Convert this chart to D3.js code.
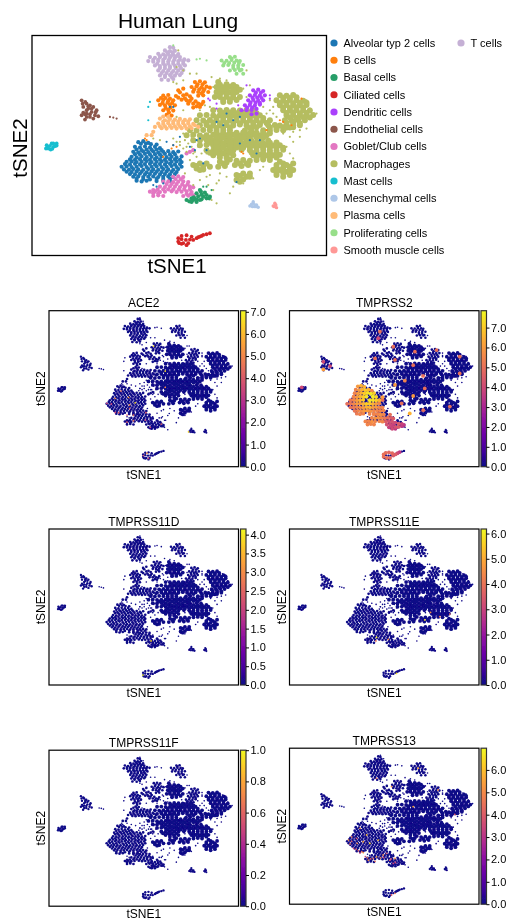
<!DOCTYPE html>
<html>
<head>
<meta charset="utf-8">
<title>Human Lung</title>
<script src="https://d3js.org/d3.v7.min.js"></script>
<style>
  body { margin: 0; background: #fff; }
  text { font-family: "Liberation Sans", Arial, sans-serif; fill: #000; }
</style>
</head>
<body>
<div id="chart"></div>
<script>
// embedding coordinates
var xDomain = [9.6, 98.0];
var yDomain = [10.5, 76.7];

var alveolarPts = [
  [41.5,42.6],[43,42.3],[44.5,42.8],
  [40.5,44],[42,44.2],[43.5,43.9],[45,44.2],[46.5,44],[48,44.4],
  [40,45.5],[41.5,45.7],[43,45.4],[44.5,45.6],[46,45.4],[47.5,45.7],[49,45.5],[50.5,45.3],[52,45.6],[53.5,45.4],
  [39.5,47],[41,47.2],[42.5,46.9],[44,47.1],[45.5,47],[47,47.2],[48.5,46.9],[50,47.1],[51.5,47],[53,47.2],[54.5,46.9],
  [38,48.5],[39.5,48.4],[41,48.6],[42.5,48.5],[44,48.3],[45.5,48.6],[47,48.5],[48.5,48.4],[50,48.6],[51.5,48.5],[53,48.4],[54.5,48.6],
  [36.5,50],[38,49.9],[39.5,50.1],[41,50],[42.5,49.8],[44,50.1],[45.5,50],[47,49.9],[48.5,50.1],[50,50],[51.5,49.8],[53,50.1],[54.5,50],
  [38,51.5],[39.5,51.6],[41,51.4],[42.5,51.5],[44,51.7],[45.5,51.4],[47,51.5],[48.5,51.6],[50,51.4],[51.5,51.5],[53,51.6],
  [40,53],[41.5,52.9],[43,53.1],[44.5,53],[46,52.9],[47.5,53.1],[49,53],[50.5,52.9],[52,53.1],
  [41,54.2],[42.5,54.4],[44,54.2],[47,54.3],[49,54.2],[51,54.3]
];
var alveolarFill = [
  [42.3,43.1],[43.8,43],[45.3,43.2],[47,43.3],
  [41,44.8],[42.5,45],[44,44.8],[45.5,44.9],[47,44.8],[48.5,45],
  [40.5,46.2],[42,46.3],[43.5,46.1],[45,46.3],[46.5,46.2],[48,46.3],[49.5,46.1],[51,46.3],[52.5,46.2],
  [39,47.8],[40.5,47.9],[42,47.7],[43.5,47.8],[45,47.9],[46.5,47.7],[48,47.8],[49.5,47.9],[51,47.7],[52.5,47.8],[54,47.9],
  [37.5,49.2],[39,49.3],[40.5,49.1],[42,49.3],[43.5,49.2],[45,49.1],[46.5,49.3],[48,49.2],[49.5,49.3],[51,49.1],[52.5,49.3],[54,49.2],
  [37.2,50.8],[38.7,50.9],[40,50.7],[41.5,50.8],[43,50.9],[44.5,50.7],[46,50.8],[47.5,50.9],[49,50.7],[50.5,50.8],[52,50.9],[53.5,50.7],
  [39,52.2],[40.5,52.3],[42,52.1],[43.5,52.3],[45,52.2],[46.5,52.1],[48,52.3],[49.5,52.2],[51,52.3],[52.5,52.2],
  [41,53.6],[43,53.7],[45,53.8],[47,53.6],[49,53.7],[51,53.6]
];
var bCellPts = [
  [58.5,24.5],[60,24.3],[61.5,24.6],
  [57.5,26],[59,25.8],[60.5,26.1],[62,25.9],[63,26.2],
  [58,27.4],[59.5,27.5],[61,27.3],[62.5,27.5],
  [59.5,28.6],[61,28.5],
  [49,28.6],[50.5,28.4],
  [47.5,30],[49,29.9],[50.5,30.1],[52,30],
  [48,31.4],[49.5,31.5],[51,31.3],[52.5,31.5],
  [49,33],[50.5,32.9],[52,33.1],
  [50,34.4],[51.5,34.6],
  [53.5,27],[55,26.5],[55,28.5],[52.8,28.7],[54.5,29.8],[56,30],[57.5,29.5],[56.5,31],
  [58,31],[59.5,31],[61,30.5],[58,32.2],[60,32],[57,28.8]
];
var bCellFill = [
  [59.3,25.2],[60.8,25.2],[58.3,26.7],[59.8,26.7],[61.3,26.7],[60.5,27.9],[48.3,29.3],[49.7,29.3],[51,29.5],
  [48.8,30.8],[50.3,30.7],[51.7,30.8],[49.7,32.3],[51.2,32.2],[50.7,33.7],[54,27.6],[56,28.2],[53.5,29.2],
  [55.5,29.4],[57,30.2],[58.7,30.3],[60.5,31.2],[59,31.8]
];
var basalPts = [
  [60,57],[59,58],[60.5,58.4],[62,58.5],[63,59],
  [57.5,59.5],[59,59.8],[60.5,59.8],[62,59.5],
  [56,60],[57.5,60.6],[59,60.6]
];
var basalFill = [[59.5,58.9],[61,59],[62.8,59.5],[58,60],[60,60],[61.5,57.8],[60.3,57.5],[56.8,60.4],[58.2,59.2]];
var ciliatedPts = [
  [53.5,71.5],[54.5,70.8],[56,70.6],[57.5,71],[53.5,72.5],[55,73],[56.5,73],
  [58,72],[59,71.5],[60,71],[61,70.5],[62,70.3],[63,70]
];
var ciliatedFill = [[54.5,71.8],[53.8,73],[55.8,72],[54.5,73.2],[57,71.9],[56,73.6],[59.5,71.2],[60.5,70.8]];
var dendriticPts = [
  [76,27],[77.5,26.8],[79,27.2],
  [75,28.5],[76.5,28.4],[78,28.6],[79.5,28.5],
  [74.5,30],[76,29.9],[77.5,30.1],[79,30],
  [73.5,31.5],[75,31.4],[76.5,31.6],[78,31.3],
  [72.5,33],[74,33],[75.5,32.9],[75.5,34.2],[77,34]
];
var dendriticFill = [[76.8,27.7],[78.3,27.7],[75.8,29.2],[77.2,29.2],[78.5,29.3],[75.2,30.7],[76.7,30.7],[78,30.8],[74.2,32.2],[75.7,32.2],[77,32.6]];
var endothelialPts = [
  [24.5,30],[26,31],[27,31.5],[25,32],[26.5,32.5],[28,32],[29,33],[27.5,33.5],
  [26,34],[25,33.7],[28.5,34.5],[29.5,34.8],[27,35],[28,35.5],[26,35],[24.5,34.5],[25.5,35.8]
];
var endothelialFill = [[26.5,31.8],[27.5,32.5],[26,33],[27,34.2],[25.5,34.2],[28.7,33.6],[24.8,31],[25.6,30.5]];
var gobletPts = [
  [52,53],[53.5,52.9],[55,53.1],
  [49,54.5],[50.5,54.4],[52,54.6],[53.5,54.5],[55,54.4],[56.5,54.6],
  [48,56],[49.5,56.1],[51,55.9],[52.5,56],[54,56.1],[55.5,55.9],[57,56],[58,56.2],
  [45,57.5],[46.5,57.4],[48,57.6],[49.5,57.5],[51.5,57.4],[53,57.6],[54.5,57.5],[56,57.4],[57.5,57.6],
  [46,58.8],[47.5,58.6],[49,58.8],[55,58.8],[56.5,58.7],[58,58.6],
  [56,46],[57,45.5],[58,45]
];
var gobletFill = [
  [52.7,53.7],[54.3,53.7],[50,55.2],[51.5,55.2],[53,55.2],[54.7,55.3],[56.3,55.3],[49,56.8],[50.5,56.8],[52,56.8],
  [53.7,56.8],[55.3,56.7],[57,56.8],[46,58],[47.5,58],[56,58.2],[57.3,58.2],[46,57],[47.3,56.9]
];
var macrophagePts = [
  // upper lobe
  [65.5,24.5],[65,26],[67,26.1],[69,25.9],[71,26],[65,27.5],[67,27.4],[69,27.6],[71,27.5],
  [66,29],[68,28.9],[70,29.1],[72,29],[67,30.5],[69,30.4],[64.5,29],
  // main body
  [64,33],[66,33.1],[68,32.9],[70,33],[72,33.1],[74,32.9],[76,33],
  [60,34.5],[62,34.4],[64,34.6],[66,34.5],[68,34.4],[70,34.6],[72,34.5],[74,34.4],[76,34.6],[78,34.5],
  [59,36],[61,36.1],[63,35.9],[65,36],[67,36.1],[69,35.9],[71,36],[73,36.1],[75,35.9],[77,36],[79,36.1],[81,36],
  [60,37.5],[62,37.4],[64,37.6],[66,37.5],[68,37.4],[70,37.6],[72,37.3],[74,37.6],[76,37.5],[78,37.4],[80.5,37.5],[82.5,37.4],[84,37.6],[86,37.5],[88,37.4],[90,37.5],
  [57,39],[59,39.1],[61,38.9],[63,39],[65,39.1],[67,38.9],[69,39],[73.5,39.1],[75.5,38.9],[79,39],[81,39.1],[83,38.9],[85,39],
  [56,40.5],[58,40.4],[60,40.6],[62,40.5],[64,40.4],[66,40.6],[68,40.5],[70,40.4],[72,40.6],[74,40.5],[76,40.4],[78,40.6],[80,40.5],
  [58,42],[60,42.1],[62,41.9],[64,42],[66,42.1],[68,41.9],[70,42],[72,42.1],[74,41.9],[75.5,42.2],[78.5,42],[80.5,42.1],
  [60,43.5],[62,43.4],[64,43.6],[66,43.5],[68,43.4],[70,43.6],[72,43.5],[74,43.4],[76,43.6],[78,43.5],[80,43.4],[82,43.6],[84,43.5],
  [62,45],[64,45.1],[66,44.9],[68,45],[70,45.1],[72.5,44.9],[75,45],[77,45.1],[79,44.9],[81,45],[83,45.1],[85,44.9],
  [64,46.5],[66,46.4],[68,46.6],[70,46.5],[76,46.5],[78,46.4],[80,46.6],[82,46.5],[84,46.4],
  [69,47.8],[77,48],[79,47.8],[81,48],
  // right lobe
  [84,28.5],[86,28.6],[88,28.4],
  [83,30],[85,30.1],[87,29.9],[89,30],[91,30.1],
  [84,31.5],[86,31.4],[88,31.6],[90,31.5],[92,31.4],
  [85,33],[87,33.1],[89,32.9],[91,33],[93,33.1],
  [86,34.5],[88,34.4],[90,34.6],[92,34.5],[94,34.4],
  [85.5,36],[87.5,36.1],[89.5,35.9],[91.5,36],
  // lower islands
  [85,49],[83,49.5],[87,50],[88,49],[82,51],[84,51],[86,51.5],[88,51],[83,52.5],[85,53],[87,52.5],
  [58,49.5],[60,49],[62,49],[59,50.5],[61,50.8],[63,50],
  [66,48.5],[68,48.7],[65.5,50],[67.5,49.8],
  [71,48.2],[73,48],[75,48.2],[70.5,49.5],[72.5,49.8],[74.5,49.5],
  [71,52.5],[73,52],[75,52],[71,54],[73,53.8],[75,53]
];
var macrophageFill = [
  [66,25.3],[68,25.2],[70,25.4],[66,26.8],[68,26.7],[70,26.9],[72,26.8],[66,28.2],[68,28.1],[70,28.3],[67,29.8],[69,29.7],[71,29.9],
  [67,33.8],[69,33.7],[71,33.9],[73,33.8],[75,33.7],[77,33.9],
  [65,35.2],[67,35.3],[69,35.1],[71,35.2],[73,35.3],[75,35.1],[77,35.2],[79,35.3],
  [62,36.8],[64,36.7],[66,36.9],[68,36.8],[70,36.7],[72,36.9],[74,36.8],[76,36.7],[78,36.9],[80,36.8],
  [63,38.2],[65,38.3],[67,38.1],[69,38.2],[75,38.3],[77,38.1],[81,38.2],[83,38.3],[85,38.1],[87,38.2],
  [65,39.8],[67,39.7],[69,39.9],[71,39.8],[73,39.7],[75,39.9],[77,39.8],[79,39.7],[81,39.9],
  [61,41.2],[63,41.3],[65,41.1],[67,41.2],[69,41.3],[71,41.1],[73,41.2],[75,41.3],[77,41.1],[79,41.2],
  [63,42.8],[65,42.7],[67,42.9],[69,42.8],[71,42.7],[73,42.9],[75,42.8],[77,42.7],[79,42.9],[81,42.8],[83,42.7],
  [65,44.2],[67,44.3],[69,44.1],[71,44.2],[73,44.3],[75,44.1],[77,44.2],[79,44.3],[81,44.1],[83,44.2],[85,44.3],
  [63,45.8],[65,45.7],[67,45.9],[69,45.8],[75.5,45.7],[77,45.9],[79,45.8],[81,45.7],[83,45.9],
  [66,47.2],[68,47.3],[77,47.2],[79,47.3],[81,47.1],[83,47.2],
  [85,29.2],[87,29.3],[89,29.1],[84,30.8],[86,30.7],[88,30.9],[90,30.8],[92,30.7],[85,32.2],[87,32.3],[89,32.1],[91,32.2],
  [86,33.8],[88,33.7],[90,33.9],[92,33.8],[87,35.2],[89,35.3],[91,35.1],[93,35.2],[86,36.8],[88,36.7],[90,36.9],[86,38.2],[88,38.1],
  [83,50.2],[85,50.3],[87,50.8],[83,51.8],[85,51.9],[87,51.7],[84,48.5],[86,49.5],
  [59,49.8],[61,49.8],[60,51],[67,49],[72,49],[74,49],[72,52.8],[74,53],[72,54.5]
];
var mastPts = [[14,43.5],[15.5,43],[17,43],[16,44],[14.5,44.5],[15.2,44.8],[16.5,43.8]];
var mastFill = [[15,43.7],[16,43],[14.3,44],[17,43.6],[15.7,44.6],[13.8,44.5]];
var mesenchymalPts = [[75,61.8],[76,61],[76.5,62],[77.5,62.2],[76,60.5],[77,61.5]];
var mesenchymalFill = [[75.5,61.3],[76.5,61.5],[77,62],[75.8,62]];
var plasmaPts = [
  [49,34.9],[50.5,35],
  [48,35.5],[49.5,36],[51,35.6],[52.5,35.8],[54,35.6],[55.5,35.9],[57,35.7],
  [47.5,37],[49,37.1],[50.5,36.9],[52,37],[53.5,37.1],[55,36.9],[56.5,37],[58,37.1],[59.5,38],
  [48.5,38.4],[50,38.5],[51.5,38.3],[53,38.5],[54.5,38.4],[56,38.5],[57.5,38.4],
  [46.5,38],[46,39.5],[45.5,40.5],[44,40.5]
];
var plasmaFill = [
  [49,36.4],[50.5,36.3],[52,36.4],[53.5,36.4],[55,36.4],[56.5,36.4],[48,37.8],[49.5,37.8],[51,37.7],[52.5,37.8],
  [54,37.8],[55.5,37.7],[57,37.8],[58.5,37.5]
];
var proliferatingPts = [
  [69,17],[70.5,16.9],
  [66.5,18],[68,18.1],[69.5,17.9],[71,18],[72,18.2],
  [67,19.5],[68.5,19.4],[70,19.6],[71.5,19.5],[73,19.4],
  [69,21],[70.5,20.9],[72,21],[71,22],[73,22]
];
var proliferatingFill = [[67.3,18.8],[68.8,18.8],[70.3,18.7],[71.7,18.8],[70,20.3],[71.5,20.3],[69.5,17.4],[72.5,20.8]];
var smoothMusclePts = [[82,61.8],[82.8,61.5],[83,62.3],[82.5,61]];
var smoothMuscleFill = [[82.3,62],[82.6,61.6]];
var tCellPts = [
  [51,14],[52,14.2],
  [49.5,15],[51,15.2],[52.5,15.1],
  [47.5,16],[49,16.2],[50.5,16.1],[52,16.3],[53.5,16.1],
  [45,17],[46.5,17.2],[48,17],[49.5,17.3],[51,17.1],[52.5,17.2],[54,17],
  [44.5,18.2],[46,18.4],[47.5,18.2],[49,18.5],[50.5,18.3],[52,18.4],[53.5,18.2],[55,18.3],[56.5,18],
  [46.5,19.5],[48,19.7],[49.5,19.5],[51,19.8],[52.5,19.6],[54,19.7],[55.5,19.5],
  [47.5,21],[49,21.2],[50.5,21],[52,21.2],[53.5,21],[55,20.9],
  [48,22.5],[49.5,22.6],[51,22.4],[52.5,22.6],[54,22.4],
  [48.5,23.8],[50.5,23.9],[52,23.6]
];
var tCellFill = [
  [50.2,15.6],[51.8,15.6],[48,16.7],[49.7,16.7],[51.3,16.7],[53,16.7],[46,17.8],[47.5,17.8],[49,17.8],[50.7,17.8],[52.3,17.8],[54,17.8],[55.3,17.7],
  [47.2,19],[49,19],[50.5,19],[52,19],[53.5,19],[55,19],[48,20.3],[49.5,20.3],[51,20.3],[52.7,20.3],[54.3,20.3],
  [48.5,21.8],[50,21.8],[51.5,21.8],[53,21.8],[54.5,21.8],[49.5,23],[51.5,23]
];

// stray cells lying outside their own cluster
var macrophageStray = [
  [52,24.5],[53,25],[55,24],[57,22],[59,22],[53.5,15],[53,20],[55,21],[63.5,23],[74,21],[64,26],[66,23.5],[68,24],
  [75,25.5],[73,26.5],[74,29],[63,32],[55,33],[53,35],[60,33],[61.5,31.5],[46,41.5],[48,42],[52,41.5],[55,40],
  [54,42.5],[56,44],[58,46],[57,48],[59,47],[62,46],[55.5,52],[60,54],[58,55.5],[63,52.5],[62,53],[65,55],[66,52],
  [68,53],[65,61],[69,58],[70,56],[73,55],[76,53.5],[78,51],[79,50],[88,39.5],[90,39],[92,38.5],[85,40],[87,41],
  [90,41],[88,42.5],[86,44],[87,46],[88,47.5],[62.5,55.5],[64,57],[63.5,60],[92,30],[93,32.5],[95,34],[65.7,54.1],
  [53,42.5],[54,43.5],[55,44.5],[56,45.5],[55.5,42],[56.5,43],[57.5,44],[58.5,45.5],[57.5,41],[58.5,42.5],[59.5,44],[60.5,46],
  [81,30],[82,32],[82,34],[81,33],[79,32],[80,34],[83,35]
];
var alveolarStray = [
  [46,55.5],[47,56],[49,55],[57,44],[59,42],[60,41.5],[54,41],[50,42.5],[52,43.5],[65,36.5],[70,36],[67,37.5],[68,34],
  [72,35],[78,42],[71,54.6],[58.5,45],[61,49],[62,45],[72,43],[75,42],[77,46],[52,32],[51,32]
];
var bCellStray = [
  [43.5,41.5],[44,42],[52,43.5],[53,44],[51.5,44.5],[72.5,45.5],[73,46],[80,39],[84,36],[85,36.5],[87.5,37.5],[90.5,29.5],[49,47]
];
var dendriticStray = [[63,30],[65,31],[62.5,29.5],[65,32.5],[81,28.5],[81,29.5],[74,25.5],[71.5,31.5]];
var mastStray = [[44.5,32],[44.5,36],[45,30.5]];
var basalStray = [[62,56],[63.5,57],[61,56]];
var endothelialStray = [[33,35],[34,35.2],[35,35.5]];
var proliferatingStray = [[59,17.7],[60,17.5],[62,18],[52,13.5]];

// TMPRSS2 expression, same order as the point arrays above
var tmprss2Alveolar = [
  6,6.5,6.5,
  5.5,6,6.5,7,6.5,5.5,
  5.5,6,6.5,7,7.4,7.6,7,0,0,0,
  5.5,6,6.5,7,7.5,0,7.6,7.2,0,6,0,
  5.2,5.5,6,6.5,7,0,7.5,7.4,7,6.5,5,0,
  5,5.2,5.5,6,6,6.5,7,7,6.5,6,5.5,0,0,
  5,5.3,5.5,5.7,6,6.5,6.5,6,6,5.5,5.5,
  5.2,5.5,5.7,6,6,5.8,5.5,5.5,0,
  5.3,5.5,5.5,5.5,5.5,5
];
var tmprss2Goblet = [
  5.5,5.5,0,
  5.5,5.5,5.8,5.5,0,5,
  5.5,5.8,5.8,5.5,5.2,5,4.5,4.5,
  5.5,5.5,5.8,5.5,5.5,5.5,4.5,4.2,4.2,
  5.5,5.5,5.5,4.2,4,3.8,
  0,0,0
];
var tmprss2Basal = [0,4,4.5,3.8,3.5,3.8,4.2,4.5,3.5,3.8,4,3.5];
var tmprss2Ciliated = [5,5,4.8,4.8,5,5,4.8,4.5,4.5,4,3.5,0,0];
var tmprss2Scattered = [
  [51.8,19.4,5],[51,22.2,4],[58,25.8,5],[68.1,27.9,5],[49.5,30.7,5],[58.8,31.4,5],[67.3,33.6,5],[78.2,27.2,5],
  [89,30,5],[89,37.1,5],[71.9,38.2,5],[63.4,40.2,5.5],[67.3,46.7,6],[72.7,43.5,5],[61.9,49.8,5],[58.8,42,6],
  [65.7,54.1,6.5],[72,52.7,5],[84.4,51.2,5],[25.4,32.2,4],[25.4,35.4,6],[28.5,34,4],[15.3,43,4]
];
var ace2Hot = [
  [40.5,47.7,5],[43.2,44.6,4.5],[46.7,47.3,5.5],[49.8,49.6,6.5],[47.2,50.5,5],[47.2,52,4],[36.6,49.8,3.5],[38.7,50.1,3.5],
  [40.5,53.7,3.5],[42.1,53.8,4],[46,54.8,4],[49,54.8,4.5],[54.8,53.8,4],[46,57.8,4],[49,57.2,4.5],[54.5,56.9,3.5],
  [56.8,60,3.5],[62,58.6,4],[53.7,72,4],[56,73.2,3.5],[55.3,71,5],[74.7,61.9,6.5],[58.4,25.5,6.5],[63.8,36.1,6.5],[63.8,43,5]
];
var tmprss11dHot = [[53.4,72.5,4.1],[57.2,58,3.8]];
var tmprss11eHot = [
  [50.2,56.5,6],[49.9,58,4],[55.7,57.3,4.5],[72.7,49.1,5.8],[75.4,45.9,4.5],[79.7,47.7,4],[84.4,46.6,4],[59.5,71.8,5.8]
];
var tmprss11fHot = [];
var tmprss13Hot = [
  [37.1,49.5,5],[38.6,48.1,4.5],[40.9,48.8,4],[37.8,51.2,4.5],[41.2,50.9,5],[41.7,54,4],[43.3,54.4,4.5],[40.6,53.4,4],
  [46.4,58,5],[48.7,57.3,4.5],[50.2,56.6,5.5],[53.3,55.8,5],[54.9,55.1,4],[58,59.4,3.5],[56.4,58,4],[58.8,57.3,5],
  [45.6,47.3,6],[44,50.2,5.5],[51,49.5,6],[47.1,50.9,6.5],[42.5,44.5,5],[50.2,23.3,4.5],[69.6,19,5.5],[57.2,26.8,5],
  [67.3,35.3,5.5],[78.9,28.2,5],[86.7,38.6,4],[57.2,72.8,4],[58.8,72.1,4.5],
  [45,56.5,3.5],[47.5,57.5,4],[49.5,58.5,4.5],[52,57,5],[38.5,50,4],[39.5,53,3.5],[42.5,55,3.5],[44,54.8,5],[57,57.5,3.5],
  [59,59,3.5],[53.5,56.8,3.5],[46,57,4.5]
];

var categories = ["Alveolar typ 2 cells", "B cells", "Basal cells", "Ciliated cells", "Dendritic cells", "Endothelial cells",
  "Goblet/Club cells", "Macrophages", "Mast cells", "Mesenchymal cells", "Plasma cells", "Proliferating cells",
  "Smooth muscle cells", "T cells"];
var categoryColors = ["#1f77b4", "#ff7f0e", "#279e68", "#d62728", "#aa40fc", "#8c564b", "#e377c2", "#b5bd61", "#17becf",
  "#aec7e8", "#ffbb78", "#98df8a", "#ff9896", "#c5b0d5"];

var geneNames = ["ACE2", "TMPRSS2", "TMPRSS11D", "TMPRSS11E", "TMPRSS11F", "TMPRSS13"];
var geneMax = [7.05, 7.85, 4.15, 6.18, 1.0, 6.97];
var geneTicks = [
  [0, 1, 2, 3, 4, 5, 6, 7],
  [0, 1, 2, 3, 4, 5, 6, 7],
  [0, 0.5, 1, 1.5, 2, 2.5, 3, 3.5, 4],
  [0, 1, 2, 3, 4, 5, 6],
  [0, 0.2, 0.4, 0.6, 0.8, 1],
  [0, 1, 2, 3, 4, 5, 6]
];

function zip(pts, vals) {
  return pts.map(function (p, i) { return [p[0], p[1], vals[i] || 0]; }).filter(function (d) { return d[2] > 0; });
}
var tmprss2Hot = zip(alveolarPts, tmprss2Alveolar)
  .concat(zip(gobletPts, tmprss2Goblet), zip(basalPts, tmprss2Basal), zip(ciliatedPts, tmprss2Ciliated), tmprss2Scattered);
var geneHot = [ace2Hot, tmprss2Hot, tmprss11dHot, tmprss11eHot, tmprss11fHot, tmprss13Hot];

var clusterPts = [
  alveolarPts.concat(alveolarFill), bCellPts.concat(bCellFill), basalPts.concat(basalFill), ciliatedPts.concat(ciliatedFill),
  dendriticPts.concat(dendriticFill), endothelialPts.concat(endothelialFill), gobletPts.concat(gobletFill),
  macrophagePts.concat(macrophageFill), mastPts.concat(mastFill), mesenchymalPts.concat(mesenchymalFill),
  plasmaPts.concat(plasmaFill), proliferatingPts.concat(proliferatingFill), smoothMusclePts.concat(smoothMuscleFill),
  tCellPts.concat(tCellFill)
];
var strayPts = [alveolarStray, bCellStray, basalStray, [], dendriticStray, endothelialStray, [], macrophageStray,
  mastStray, [], [], proliferatingStray, [], []];

var width = 517;
var height = 922;
// macrophages are plotted on a wider spacing, they need a fatter dot to close up
var topDotR = [2.1, 2.1, 2.1, 1.9, 2.1, 1.9, 2.1, 3.0, 1.9, 1.7, 2.1, 2.0, 1.7, 2.1];
var geneDotScale = 0.63;

var svg = d3.select("#chart").append("svg")
  .attr("width", width)
  .attr("height", height)
  .style("display", "block");

svg.append("defs").append("filter").attr("id", "soft")
  .append("feGaussianBlur").attr("stdDeviation", 0.45);

var root = svg.append("g").attr("filter", "url(#soft)");

// top panel, coloured by cell type
var topBox = { x0: 32, x1: 326.5, y0: 35.5, y1: 255.5 };
var xTop = d3.scaleLinear().domain(xDomain).range([topBox.x0, topBox.x1]);
var yTop = d3.scaleLinear().domain(yDomain).range([topBox.y0, topBox.y1]);

// plot the macrophages first, then the rest over them
var drawOrder = [7, 13, 11, 1, 4, 5, 8, 10, 0, 6, 2, 3, 9, 12];
drawOrder.forEach(function (c) {
  root.append("g").selectAll("circle").data(clusterPts[c]).enter().append("circle")
    .attr("cx", function (d) { return xTop(d[0]); })
    .attr("cy", function (d) { return yTop(d[1]); })
    .attr("r", topDotR[c])
    .attr("fill", categoryColors[c]);
});
drawOrder.forEach(function (c) {
  root.append("g").selectAll("circle").data(strayPts[c]).enter().append("circle")
    .attr("cx", function (d) { return xTop(d[0]); })
    .attr("cy", function (d) { return yTop(d[1]); })
    .attr("r", 1.1)
    .attr("fill", categoryColors[c]);
});

root.append("rect")
  .attr("x", topBox.x0).attr("y", topBox.y0)
  .attr("width", topBox.x1 - topBox.x0).attr("height", topBox.y1 - topBox.y0)
  .attr("fill", "none").attr("stroke", "#000").attr("stroke-width", 1.3);

root.append("text").attr("x", 178).attr("y", 28).attr("text-anchor", "middle")
  .attr("font-size", 21).text("Human Lung");
root.append("text").attr("x", 177).attr("y", 273).attr("text-anchor", "middle")
  .attr("font-size", 20.5).text("tSNE1");
root.append("text").attr("transform", "translate(27,148) rotate(-90)").attr("text-anchor", "middle")
  .attr("font-size", 20.5).text("tSNE2");

// legend, two columns
var legend = root.append("g").selectAll("g").data(categories).enter().append("g")
  .attr("transform", function (d, i) {
    return i < 13 ? "translate(334," + (43 + i * 17.25) + ")" : "translate(461,43)";
  });
legend.append("circle").attr("r", 3.6).attr("fill", function (d, i) { return categoryColors[i]; });
legend.append("text").attr("x", 9.5).attr("y", 3.8).attr("font-size", 11).text(function (d) { return d; });

// six gene panels
var colLeft = [49, 289.5];
var rowTop = [
  [310.7, 310.7],
  [529, 529],
  [750.2, 748.2]
];
var panelW = 189.5;
var panelH = 156;

geneNames.forEach(function (gene, g) {
  var col = g % 2;
  var row = Math.floor(g / 2);
  var px = colLeft[col];
  var py = rowTop[row][col];

  var x = d3.scaleLinear().domain(xDomain).range([px, px + panelW]);
  var y = d3.scaleLinear().domain(yDomain).range([py, py + panelH]);
  var color = d3.scaleSequential(d3.interpolatePlasma).domain([0, geneMax[g]]);

  var panel = root.append("g");

  clusterPts.forEach(function (pts, c) {
    panel.append("g").selectAll("circle").data(pts).enter().append("circle")
      .attr("cx", function (d) { return x(d[0]); })
      .attr("cy", function (d) { return y(d[1]); })
      .attr("r", topDotR[c] * geneDotScale)
      .attr("fill", color(0));
  });
  strayPts.forEach(function (pts) {
    panel.append("g").selectAll("circle").data(pts).enter().append("circle")
      .attr("cx", function (d) { return x(d[0]); })
      .attr("cy", function (d) { return y(d[1]); })
      .attr("r", 0.8)
      .attr("fill", color(0));
  });

  var hot = geneHot[g].slice().sort(function (a, b) { return a[2] - b[2]; });
  var dense = gene === "TMPRSS2";
  panel.append("g").selectAll("circle").data(hot).enter().append("circle")
    .attr("cx", function (d) { return x(d[0]); })
    .attr("cy", function (d) { return y(d[1]); })
    .attr("r", dense ? 1.9 : 0.9)
    .attr("fill", function (d) { return color(d[2]); });

  panel.append("rect")
    .attr("x", px).attr("y", py).attr("width", panelW).attr("height", panelH)
    .attr("fill", "none").attr("stroke", "#000").attr("stroke-width", 1.2);

  panel.append("text").attr("x", px + panelW / 2).attr("y", py - 3.5).attr("text-anchor", "middle")
    .attr("font-size", 12).text(gene);
  panel.append("text").attr("x", px + panelW / 2).attr("y", py + panelH + 12).attr("text-anchor", "middle")
    .attr("font-size", 12).text("tSNE1");
  panel.append("text").attr("transform", "translate(" + (px - 4) + "," + (py + panelH / 2) + ") rotate(-90)")
    .attr("text-anchor", "middle").attr("font-size", 12).text("tSNE2");

  // colorbar
  var barX = px + panelW + 2;
  var barW = 5.5;
  var barScale = d3.scaleLinear().domain([0, geneMax[g]]).range([py + panelH, py]);
  var gradId = "grad" + g;
  var grad = svg.select("defs").append("linearGradient").attr("id", gradId)
    .attr("x1", 0).attr("y1", 1).attr("x2", 0).attr("y2", 0);
  d3.range(11).forEach(function (s) {
    grad.append("stop").attr("offset", s / 10).attr("stop-color", d3.interpolatePlasma(s / 10));
  });
  panel.append("rect")
    .attr("x", barX).attr("y", py).attr("width", barW).attr("height", panelH)
    .attr("fill", "url(#" + gradId + ")").attr("stroke", "#333").attr("stroke-width", 1.2);

  var barAxis = d3.axisRight(barScale).tickValues(geneTicks[g]).tickFormat(d3.format(".1f")).tickSize(3).tickPadding(1.5);
  var axisG = panel.append("g").attr("transform", "translate(" + (barX + barW) + ",0)").call(barAxis);
  axisG.select(".domain").remove();
  axisG.selectAll("text").attr("font-size", 11).style("font-family", '"Liberation Sans", Arial, sans-serif');
  axisG.selectAll("line").attr("stroke", "#000");
});
</script>
</body>
</html>
